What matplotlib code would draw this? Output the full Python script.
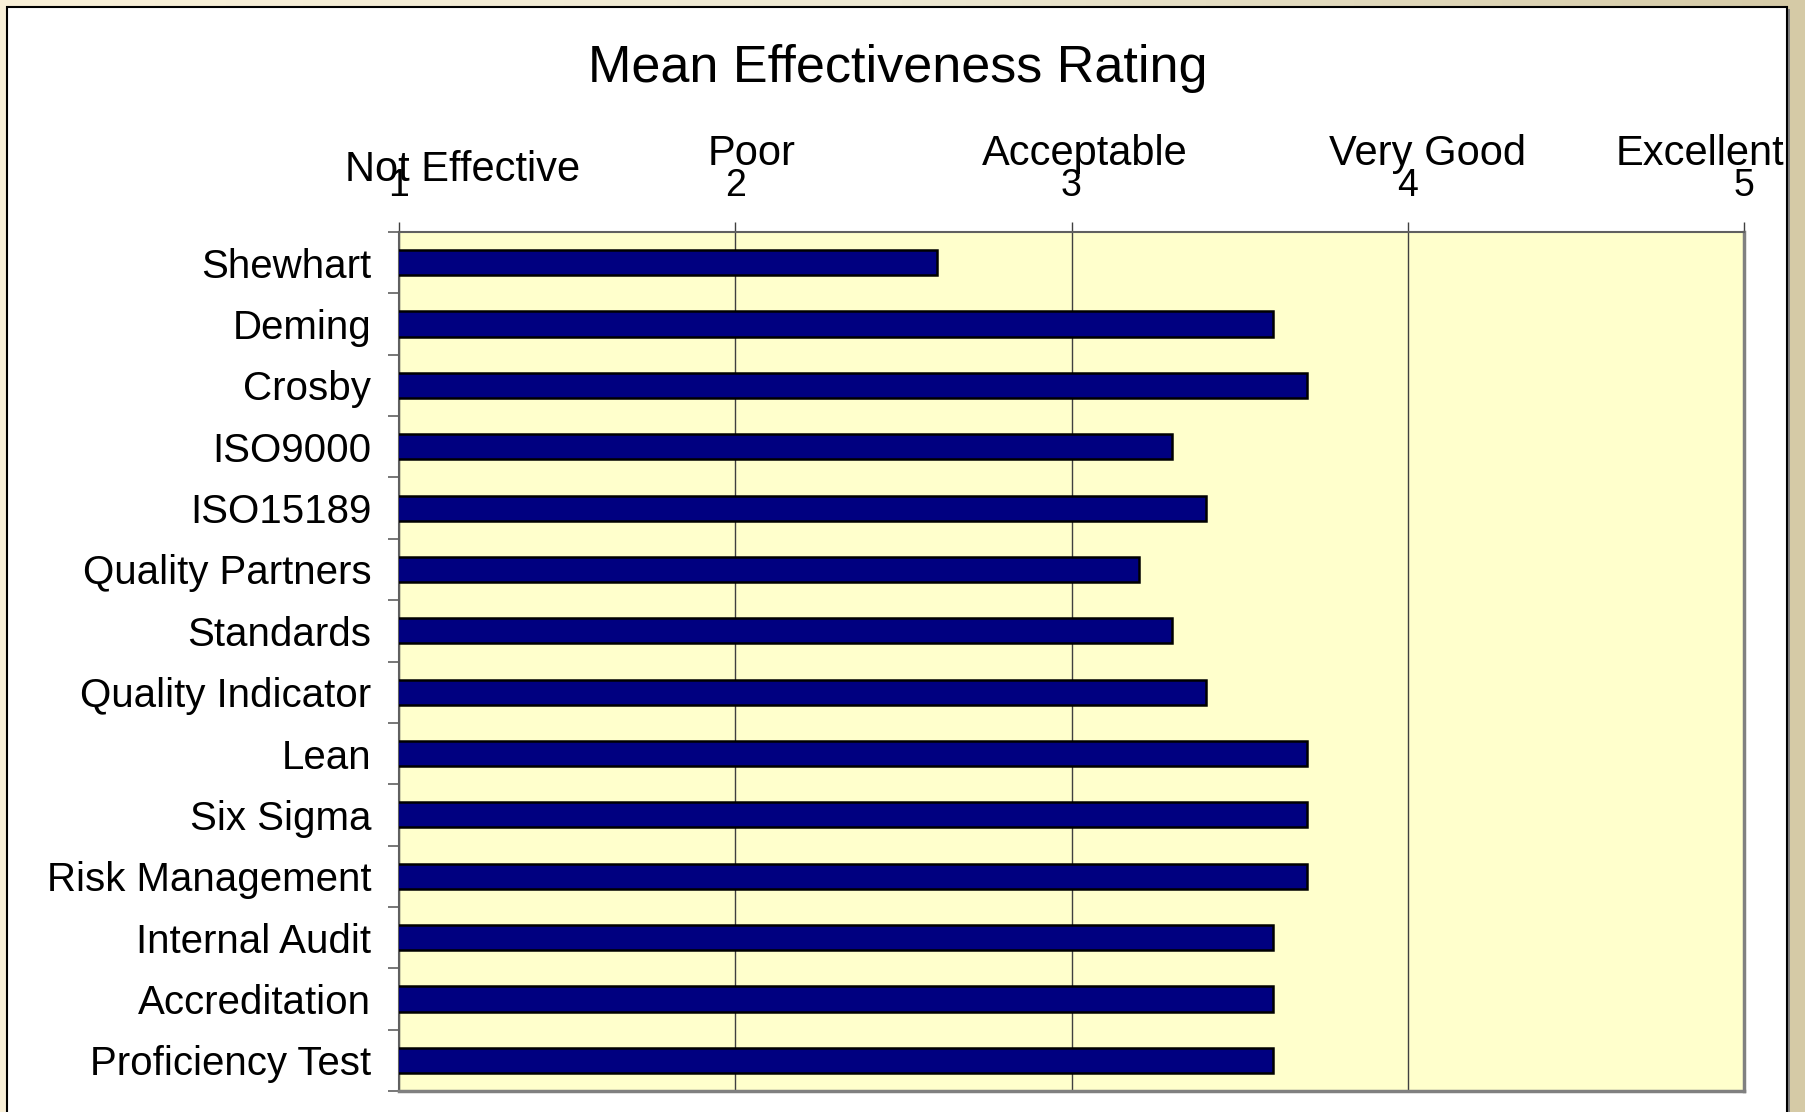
import matplotlib
matplotlib.use("Agg")
import matplotlib.pyplot as plt
import numpy as np
from matplotlib.patches import Rectangle
from matplotlib.colors import LinearSegmentedColormap
import matplotlib.transforms as mtransforms

plt.rcParams['font.family'] = ['Liberation Sans', 'DejaVu Sans']

categories = ["Shewhart", "Deming", "Crosby", "ISO9000", "ISO15189", "Quality Partners",
              "Standards", "Quality Indicator", "Lean", "Six Sigma", "Risk Management",
              "Internal Audit", "Accreditation", "Proficiency Test"]
values = [2.6, 3.6, 3.7, 3.3, 3.4, 3.2, 3.3, 3.4, 3.7, 3.7, 3.7, 3.6, 3.6, 3.6]
x_ticks = [1, 2, 3, 4, 5]
rating_labels = ["Not Effective", "Poor", "Acceptable", "Very Good", "Excellent"]
rating_label_x = [1.19, 2.05, 3.04, 4.06, 4.87]
title = "Mean Effectiveness Rating"

W, H = 1805, 1112
fig = plt.figure(figsize=(W / 100, H / 100), dpi=100)

# background gradient
bg = fig.add_axes([0, 0, 1, 1], zorder=-10)
cmap = LinearSegmentedColormap.from_list("bg", ["#F9F0D8", "#EDE8D2", "#D5CAA6"])
grad = np.linspace(0, 1, 256).reshape(1, -1)
bg.imshow(grad, aspect="auto", cmap=cmap, extent=[0, 1, 0, 1])
bg.set_xlim(0, 1); bg.set_ylim(0, 1)
bg.axis("off")
# white panel with shadow
bg.add_patch(Rectangle((9 / W, -0.1), (1788 - 7) / W, 1 - 9 / H + 0.1,
                       facecolor="#808080", edgecolor="none", zorder=1))
bg.add_patch(Rectangle((7 / W, -0.1), (1787 - 7) / W, 1 - 7 / H + 0.1,
                       facecolor="white", edgecolor="black", linewidth=1.5, zorder=2))

ax = fig.add_axes([399 / W, 1 - 1091 / H, (1744 - 399) / W, (1091 - 232) / H])
ax.set_facecolor("#FFFFCC")
y = np.arange(len(categories))
ax.barh(y, values, left=0, height=0.41, color="#000080", edgecolor="black",
        linewidth=1.8, zorder=3)
ax.set_xlim(1, 5)
ax.set_ylim(len(categories) - 0.5, -0.5)

ax.xaxis.tick_top()
ax.set_xticks(x_ticks)
ax.set_xticklabels([str(t) for t in x_ticks], fontsize=27)
ax.tick_params(axis="x", direction="out", length=7, width=1, color="#404040", pad=13)
ax.grid(axis="x", color="#404040", linewidth=1, zorder=1)

ax.set_yticks(y)
ax.set_yticklabels(categories, fontsize=29)
ax.tick_params(axis="y", length=0, pad=20)
ax.set_yticks(np.arange(-0.5, len(categories), 1), minor=True)
ax.tick_params(axis="y", which="minor", direction="out", length=8, width=1.2, color="#606060")

for side in ["top", "left"]:
    ax.spines[side].set_color("#606060")
    ax.spines[side].set_linewidth(1.5)
for side in ["right", "bottom"]:
    ax.spines[side].set_color("#808080")
    ax.spines[side].set_linewidth(2.5)

trans = mtransforms.blended_transform_factory(ax.transData, fig.transFigure)
for i, (lab, lx) in enumerate(zip(rating_labels, rating_label_x)):
    base = 181 if i == 0 else 165
    ax.text(lx, 1 - base / H, lab, transform=trans, ha="center", va="baseline",
            fontsize=30, clip_on=False)

fig.text(898 / W, 1 - 82 / H, title, ha="center", va="baseline", fontsize=37.5)

fig.savefig("out.png", dpi=100)
